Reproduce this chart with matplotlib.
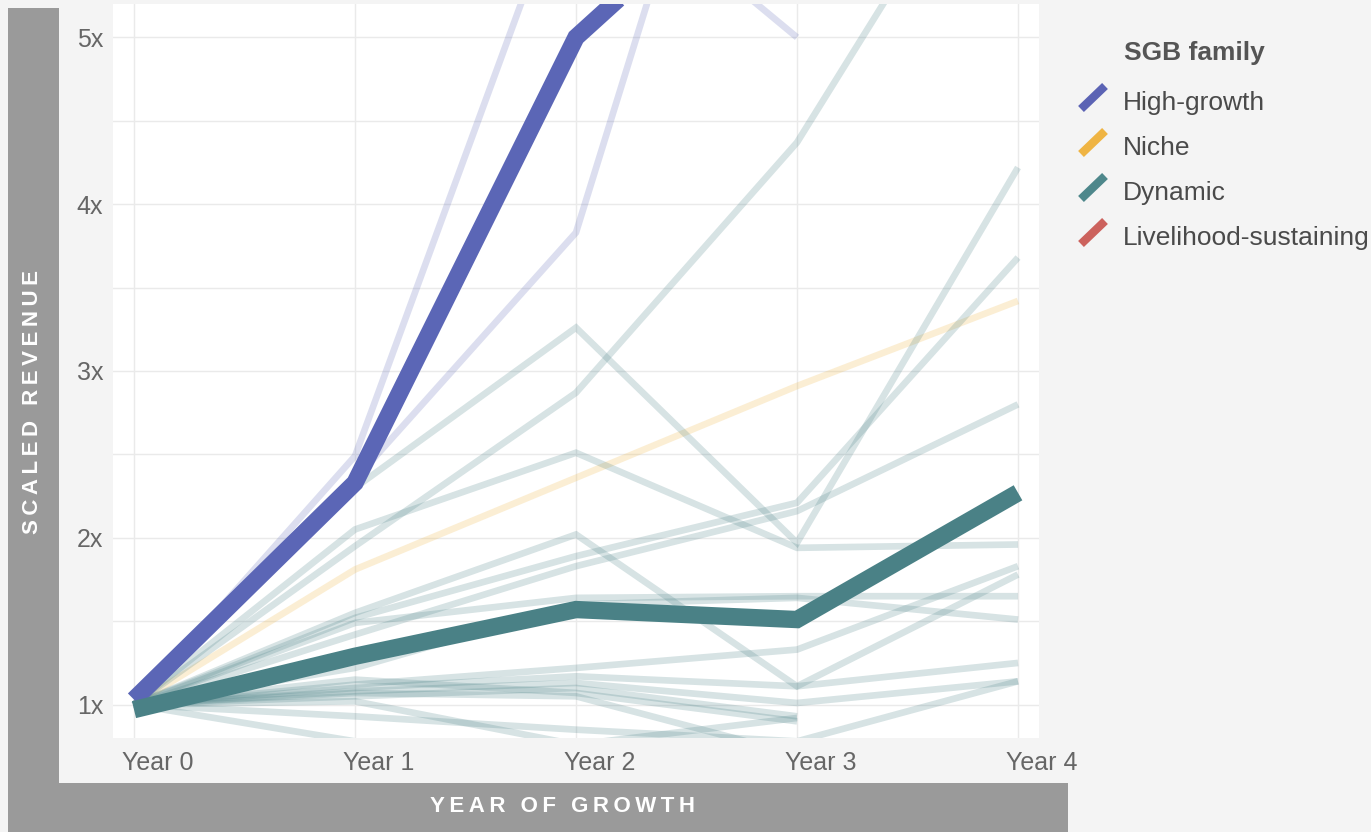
import numpy as np
import matplotlib
matplotlib.use("Agg")
import matplotlib.pyplot as plt
from matplotlib.lines import Line2D
from matplotlib.patches import Rectangle
from matplotlib.transforms import ScaledTranslation

plt.rcParams['font.family'] = ['Liberation Sans', 'DejaVu Sans']

nan = np.nan

years = [0, 1, 2, 3, 4]
year_labels = ["Year 0", "Year 1", "Year 2", "Year 3", "Year 4"]
y_ticks = [1, 2, 3, 4, 5]
y_labels = ["1x", "2x", "3x", "4x", "5x"]

# family averages (thick lines)
high_growth_avg = [1.03, 2.33, 5.0, 6.2, 7.0]
dynamic_avg = [0.97, 1.29, 1.57, 1.51, 2.27]

# individual firms (faint lines)
high_growth_firms = [
    [1.0, 2.49, 6.1, 5.0, nan],
    [1.0, 2.35, 3.83, 8.1, 9.0],
]
niche_firms = [
    [1.0, 1.81, 2.36, 2.91, 3.42],
]
dynamic_firms = [
    [1.0, 1.95, 2.87, 4.37, 6.5],
    [1.0, 2.30, 3.26, 1.97, 4.22],
    [1.0, 2.05, 2.51, 1.94, 1.96],
    [1.0, 1.55, 2.02, 1.11, 1.78],
    [1.0, 1.52, 1.89, 2.21, 3.68],
    [1.0, 1.42, 1.83, 2.16, 2.80],
    [1.0, 1.49, 1.64, 1.65, 1.65],
    [1.0, 1.22, 1.60, 1.64, 1.51],
    [1.0, 1.12, 1.22, 1.33, 1.83],
    [1.0, 1.10, 1.17, 1.11, 1.25],
    [1.0, 1.08, 1.13, 1.01, 1.14],
    [1.0, 1.05, 1.10, 0.93, nan],
    [1.0, 1.15, 1.07, 0.90, nan],
    [1.0, 1.07, 1.05, 0.70, nan],
    [1.0, 0.93, 0.85, 0.78, 1.14],
    [1.0, 0.78, 0.60, nan, nan],
    [1.0, 1.02, 0.76, 0.92, nan],
]

families = ["High-growth", "Niche", "Dynamic", "Livelihood-sustaining"]
family_colors = ["#5B63B4", "#EFB443", "#4E878B", "#CC625D"]

BLUE = "#5B66B6"
ORANGE = "#F0B43C"
TEAL = "#4A8186"
BAND = "#9A9A9A"
BG = "#F4F4F4"

W, H = 1371, 832
fig = plt.figure(figsize=(W / 100, H / 100), dpi=100, facecolor=BG)

def fx(px):
    return px / W

def fy(py):
    return 1 - py / H

# grey bands behind the axis titles
fig.patches.append(Rectangle((fx(8), 0), fx(51), 824 / H, transform=fig.transFigure,
                             facecolor=BAND, edgecolor='none', zorder=0))
fig.patches.append(Rectangle((fx(8), 0), fx(1060), 49 / H, transform=fig.transFigure,
                             facecolor=BAND, edgecolor='none', zorder=0))

ax = fig.add_axes([fx(113), fy(738), fx(926), 734 / H])
ax.set_facecolor("white")
for s in ax.spines.values():
    s.set_visible(False)

ax.set_xlim(-0.095, 4.095)
ax.set_ylim(0.8, 5.2)
ax.set_xticks(years)
ax.set_xticklabels(year_labels)
ax.set_yticks(y_ticks)
ax.set_yticklabels(y_labels)
ax.set_yticks(np.arange(1.5, 5.0, 1.0), minor=True)
ax.grid(True, which='both', color='#EAEAEA', lw=1)
ax.set_axisbelow(True)
ax.tick_params(which='both', length=0)
ax.tick_params(axis='y', labelsize=18, labelcolor='#666666', pad=7)
ax.tick_params(axis='x', labelsize=18, labelcolor='#666666', pad=9)
shift = ScaledTranslation(-12 / 100, 0, fig.dpi_scale_trans)
for lab in ax.get_xticklabels():
    lab.set_horizontalalignment('left')
    lab.set_transform(lab.get_transform() + shift)

faint_kw = dict(lw=4.8, solid_capstyle='butt', solid_joinstyle='miter')
for vals in high_growth_firms:
    ax.plot(years, vals, color=BLUE, alpha=0.21, **faint_kw)
for vals in niche_firms:
    ax.plot(years, vals, color=ORANGE, alpha=0.22, **faint_kw)
for vals in dynamic_firms:
    ax.plot(years, vals, color=TEAL, alpha=0.22, **faint_kw)

thick_kw = dict(lw=12.5, solid_capstyle='butt', solid_joinstyle='miter')
ax.plot(years, high_growth_avg, color=BLUE, **thick_kw)
ax.plot(years, dynamic_avg, color=TEAL, **thick_kw)

def spaced(s):
    return '\u2009'.join(s)

fig.text(fx(33), fy(402), spaced("SCALED REVENUE"), rotation=90, ha='center', va='center',
         color='white', fontsize=16, fontweight='bold')
fig.text(fx(563), fy(807), spaced("YEAR OF GROWTH"), ha='center', va='center',
         color='white', fontsize=16, fontweight='bold')

# legend
fig.text(fx(1124), fy(53), "SGB family", ha='left', va='center', fontsize=19,
         fontweight='bold', color='#555555')
for i, (name, col) in enumerate(zip(families, family_colors)):
    yc = 103 + 45 * i
    fig.lines.append(Line2D([fx(1081), fx(1105)], [fy(yc + 6), fy(yc - 17)],
                            transform=fig.transFigure, color=col, lw=6,
                            solid_capstyle='butt'))
    fig.text(fx(1123), fy(yc), name, ha='left', va='center', fontsize=19, color='#4A4A4A')

fig.savefig("out.png", dpi=100, facecolor=BG)
